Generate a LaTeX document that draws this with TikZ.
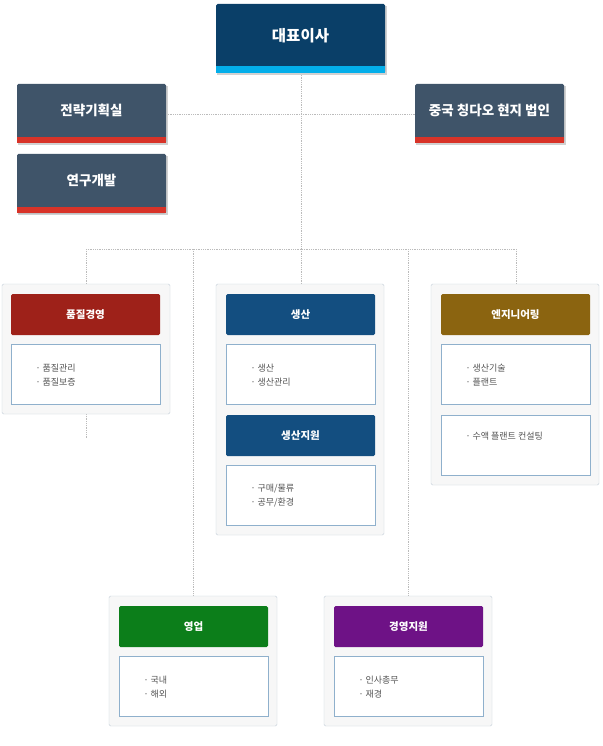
\documentclass[tikz,border=0pt]{standalone}
\usepackage{fontspec}
\setmainfont{Noto Sans CJK KR}
\newfontfamily\kb{Noto Sans CJK KR Bold}
\definecolor{topb}{HTML}{0A3F68}
\definecolor{cyanb}{HTML}{03AEEA}
\definecolor{grayb}{HTML}{3F5469}
\definecolor{redst}{HTML}{D83328}
\definecolor{hred}{HTML}{9E2119}
\definecolor{hblue}{HTML}{134E80}
\definecolor{hbrown}{HTML}{8B6410}
\definecolor{hgreen}{HTML}{0C7E1A}
\definecolor{hpurple}{HTML}{6E1286}
\definecolor{panelc}{HTML}{F7F7F7}
\definecolor{panelb}{HTML}{C6D0DA}
\definecolor{contb}{HTML}{8FB0CC}
\definecolor{txt}{HTML}{555555}
\definecolor{dotc}{HTML}{BBBBBB}
\tikzset{
 conn/.style={draw=dotc,densely dotted,line width=0.8pt},
 ttl/.style={text=white,font=\fontsize{13.5}{15}\selectfont\bfseries},
 hdr/.style={text=white,font=\fontsize{10.5}{12}\selectfont\bfseries},
 itm/.style={text=txt,font=\fontsize{9}{14}\selectfont,align=left,anchor=west},
}
\begin{document}
\begin{tikzpicture}[x=1pt,y=-1pt]
\useasboundingbox[fill=white] (0,0) rectangle (602,746);
% connectors
\coordinate (jt) at (301,249);
\draw[conn] (166,114) -- (415,114);
\draw[conn] (301,73) -- (jt);
\draw[conn] (86,249) -- (516,249);
\draw[conn] (86,249) -- (86,284);
\draw[conn] (86,414) -- (86,438);
\draw[conn] (193,249) -- (193,596);
\draw[conn] (301,249) -- (301,284);
\draw[conn] (408,249) -- (408,596);
\draw[conn] (516,249) -- (516,284);
% top boxes
\fill[black!18] (217,6) rectangle (387,75);
\fill[topb,rounded corners=1.5pt] (216,4) rectangle (385,73);
\fill[cyanb] (216,66) rectangle (385,73);
\node[ttl,font=\fontsize{15.5}{17}\selectfont\bfseries] (ceo) at (300.5,36) {대표이사};
\foreach \n/\xa/\ya/\t in {sp/17/84/전략기획실, rd/17/154/연구개발, cn/415/84/중국 칭다오 현지 법인}{
 \fill[black!18] (\xa+1,\ya+2) rectangle (\xa+151,\ya+61);
 \fill[grayb,rounded corners=1.5pt] (\xa,\ya) rectangle (\xa+149,\ya+59);
 \fill[redst] (\xa,\ya+53) rectangle (\xa+149,\ya+59);
 \node[ttl] (\n) at (\xa+74.5,\ya+26) {\t};
}
% panels
\foreach \xa/\ya/\h in {2/284/130, 216/284/251, 431/284/201, 109/596/130, 324/596/130}{
 \draw[panelb,fill=panelc,rounded corners=1.5pt] (\xa,\ya) rectangle (\xa+168,\ya+\h);
}
% headers
\foreach \n/\xa/\ya/\c/\t in {qa/11/294/hred/품질경영, pr/226/294/hblue/생산, ps/226/415/hblue/생산지원, en/441/294/hbrown/엔지니어링, sa/119/606/hgreen/영업, mg/334/606/hpurple/경영지원}{
 \fill[\c,rounded corners=1.5pt] (\xa,\ya) rectangle (\xa+149,\ya+41);
 \node[hdr] (\n) at (\xa+74.5,\ya+20.5) {\t};
}
% contents
\foreach \n/\xa/\ya/\t in {qac/11/344/{· 품질관리\\· 품질보증}, prc/226/344/{· 생산\\· 생산관리}, psc/226/465/{· 구매/물류\\· 공무/환경}, enc/441/344/{· 생산기술\\· 플랜트}, enc2/441/415/{· 수액 플랜트 컨설팅}, sac/119/656/{· 국내\\· 해외}, mgc/334/656/{· 인사총무\\· 재경}}{
 \draw[contb,fill=white] (\xa,\ya) rectangle (\xa+149,\ya+60);
}
\node[itm] (i1) at (32,375) {· 품질관리\\· 품질보증};
\node[itm] (i2) at (247,375) {· 생산\\· 생산관리};
\node[itm] (i3) at (247,496) {· 구매/물류\\· 공무/환경};
\node[itm] (i4) at (462,375) {· 생산기술\\· 플랜트};
\node[itm] (i5) at (462,436) {· 수액 플랜트 컨설팅};
\node[itm] (i6) at (140,687) {· 국내\\· 해외};
\node[itm] (i7) at (355,687) {· 인사총무\\· 재경};
\end{tikzpicture}
\end{document}
